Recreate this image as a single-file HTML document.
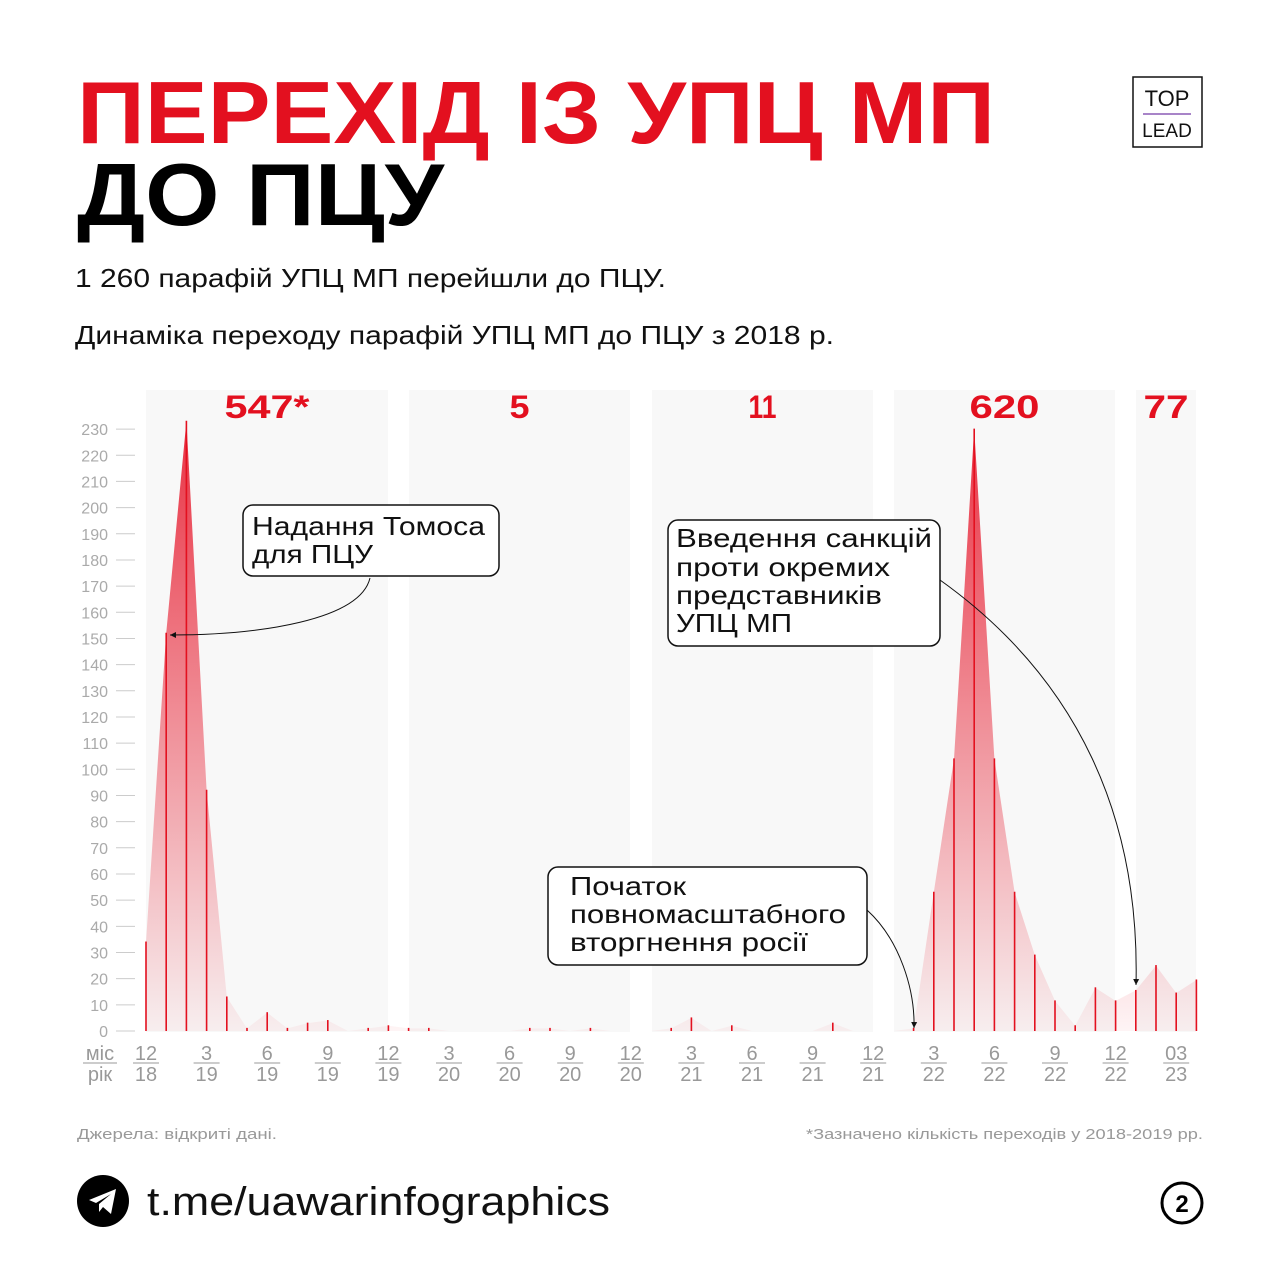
<!DOCTYPE html>
<html><head><meta charset="utf-8"><style>
body{margin:0;background:#fff}
svg{display:block}
text{font-family:"Liberation Sans",sans-serif}
</style></head><body>
<svg id="s" width="1280" height="1280" viewBox="0 0 1280 1280">
<defs>
<linearGradient id="g" x1="0" y1="0" x2="0" y2="1">
<stop offset="0" stop-color="#e8283a" stop-opacity="0.95"/>
<stop offset="1" stop-color="#e8283a" stop-opacity="0.05"/>
</linearGradient>
<marker id="ah" markerWidth="8" markerHeight="8" refX="6" refY="4" orient="auto"><path d="M0,1 L6,4 L0,7 Z" fill="#111"/></marker>
</defs>
<text x="77" y="143" font-size="88" font-weight="900" fill="#e3101f" textLength="918" lengthAdjust="spacingAndGlyphs">ПЕРЕХІД ІЗ УПЦ МП</text>
<text x="77" y="225" font-size="88" font-weight="900" fill="#000" textLength="367" lengthAdjust="spacingAndGlyphs">ДО ПЦУ</text>
<g>
<rect x="1133" y="77" width="69" height="70" fill="none" stroke="#111" stroke-width="1.5"/>
<text x="1167" y="106" font-size="22" text-anchor="middle" fill="#111">TOP</text>
<line x1="1143" y1="114" x2="1191" y2="114" stroke="#8b5bb5" stroke-width="1.5"/>
<text x="1167" y="137" font-size="19" text-anchor="middle" fill="#111">LEAD</text>
</g>
<text x="75" y="287" font-size="26" fill="#111" textLength="591" lengthAdjust="spacingAndGlyphs">1 260 парафій УПЦ МП перейшли до ПЦУ.</text>
<text x="75" y="344" font-size="26" fill="#111" textLength="759" lengthAdjust="spacingAndGlyphs">Динаміка переходу парафій УПЦ МП до ПЦУ з 2018 р.</text>
<g id="chart"></g>
<g>
<rect x="243" y="505" width="256" height="71" rx="10" fill="#fff" stroke="#111" stroke-width="1.5"/>
<text x="252" y="535" font-size="26" fill="#111" textLength="233" lengthAdjust="spacingAndGlyphs">Надання Томоса</text>
<text x="252" y="563" font-size="26" fill="#111" textLength="121" lengthAdjust="spacingAndGlyphs">для ПЦУ</text>
<path d="M370,578 C360,620 260,635 170,635" fill="none" stroke="#111" stroke-width="1" marker-end="url(#ah)"/>
</g>
<g>
<rect x="668" y="520" width="272" height="126" rx="10" fill="#fff" stroke="#111" stroke-width="1.5"/>
<text x="676" y="547" font-size="26" fill="#111" textLength="256" lengthAdjust="spacingAndGlyphs">Введення санкцій</text>
<text x="676" y="576" font-size="26" fill="#111" textLength="214" lengthAdjust="spacingAndGlyphs">проти окремих</text>
<text x="676" y="604" font-size="26" fill="#111" textLength="206" lengthAdjust="spacingAndGlyphs">представників</text>
<text x="676" y="632" font-size="26" fill="#111" textLength="116" lengthAdjust="spacingAndGlyphs">УПЦ МП</text>
<path d="M940,580 C1080,680 1140,820 1136,985" fill="none" stroke="#111" stroke-width="1" marker-end="url(#ah)"/>
</g>
<g>
<rect x="548" y="867" width="319" height="98" rx="10" fill="#fff" stroke="#111" stroke-width="1.5"/>
<text x="570" y="895" font-size="26" fill="#111" textLength="116" lengthAdjust="spacingAndGlyphs">Початок</text>
<text x="570" y="923" font-size="26" fill="#111" textLength="276" lengthAdjust="spacingAndGlyphs">повномасштабного</text>
<text x="570" y="951" font-size="26" fill="#111" textLength="238" lengthAdjust="spacingAndGlyphs">вторгнення росії</text>
<path d="M867,910 C900,940 915,990 914,1028" fill="none" stroke="#111" stroke-width="1" marker-end="url(#ah)"/>
</g>
<text x="77" y="1139" font-size="15" fill="#999" textLength="200" lengthAdjust="spacingAndGlyphs">Джерела: відкриті дані.</text>
<text x="806" y="1139" font-size="15" fill="#999" textLength="397" lengthAdjust="spacingAndGlyphs">*Зазначено кількість переходів у 2018-2019 рр.</text>
<g>
<circle cx="103" cy="1201" r="26" fill="#000"/>
<path d="M89,1200 L116,1189 L111,1214 L103,1207 L99,1212 L99,1204 L111,1194 L96,1203 Z" fill="#fff"/>
</g>
<text x="147" y="1215" font-size="40" fill="#111" textLength="463" lengthAdjust="spacingAndGlyphs">t.me/uawarinfographics</text>
<g>
<circle cx="1182" cy="1203" r="20" fill="none" stroke="#000" stroke-width="3"/>
<text x="1182" y="1212" font-size="24" font-weight="bold" text-anchor="middle">2</text>
</g>
</svg>
<script>
const values = [34,152,233,92,13,1,7,1,3,4,0,1,2,1,1,0,0,0,0,1,1,0,1,0,0,0,1,5,0,2,0,0,0,0,3,0,0,0,1,53,104,230,104,53,29,11.5,2,16.5,11.5,15.5,25,14.5,19.5];
const monthLabels = ["12","3","6","9","12","3","6","9","12","3","6","9","12","3","6","9","12","03"];
const yearLabels = ["18","19","19","19","19","20","20","20","20","21","21","21","21","22","22","22","22","23"];
const yTicks = [0,10,20,30,40,50,60,70,80,90,100,110,120,130,140,150,160,170,180,190,200,210,220,230];
const yearTotals = ["547*","5","11","620","77"];
const NS="http://www.w3.org/2000/svg";
const g=document.getElementById('chart');
const X=i=>146+i*20.2, Y=v=>1031-v*2.617;
function mk(t,a,p){const e=document.createElementNS(NS,t);for(const k in a)e.setAttribute(k,a[k]);(p||g).appendChild(e);return e;}
const bands=[[146,388],[409,630],[652,873],[894,1115],[1136,1196]];
const totalW=[85,20,28,70,45];
bands.forEach((b,i)=>{
 const r=mk('rect',{x:b[0],y:390,width:b[1]-b[0],height:642,fill:'#f8f8f8'});
 
 
 const t=mk('text',{x:(b[0]+b[1])/2-totalW[i]/2,y:418,'font-size':32,'font-weight':900,fill:'#e3101f',textLength:totalW[i],lengthAdjust:'spacingAndGlyphs'});
 t.textContent=yearTotals[i];
 
 
});
yTicks.forEach(v=>{
 const t=mk('text',{x:108,y:Y(v)+6,'font-size':16,fill:'#aaa','text-anchor':'end'});
 t.textContent=v;
 
 
 mk('line',{x1:116,x2:135,y1:Y(v),y2:Y(v),stroke:'#ccc','stroke-width':1});
});
let pts=values.map((v,i)=>X(i)+','+Y(v)).join(' ');
pts=X(0)+','+Y(0)+' '+pts+' '+X(values.length-1)+','+Y(0);
const area=mk('polygon',{points:pts,fill:'url(#g)'});


values.forEach((v,i)=>{
 if(v<=0)return;
 const l=mk('line',{x1:X(i),x2:X(i),y1:Y(0),y2:Y(v)-0.5,stroke:'#e3101f','stroke-width':1.6});
 
 
});
monthLabels.forEach((m,k)=>{
 const x=X(k*3);
 const a=mk('text',{x:x,y:1060,'font-size':20,fill:'#999','text-anchor':'middle'});a.textContent=m;
 
 
 mk('line',{x1:x-13,x2:x+13,y1:1063,y2:1063,stroke:'#999','stroke-width':1});
 const b=mk('text',{x:x,y:1081,'font-size':20,fill:'#999','text-anchor':'middle'});b.textContent=yearLabels[k];
 
 
});
const a=mk('text',{x:100,y:1060,'font-size':20,fill:'#999','text-anchor':'middle'});a.textContent='міс';


mk('line',{x1:83,x2:117,y1:1063,y2:1063,stroke:'#999','stroke-width':1});
const b=mk('text',{x:100,y:1081,'font-size':20,fill:'#999','text-anchor':'middle'});b.textContent='рік';


</script>
</body></html>
